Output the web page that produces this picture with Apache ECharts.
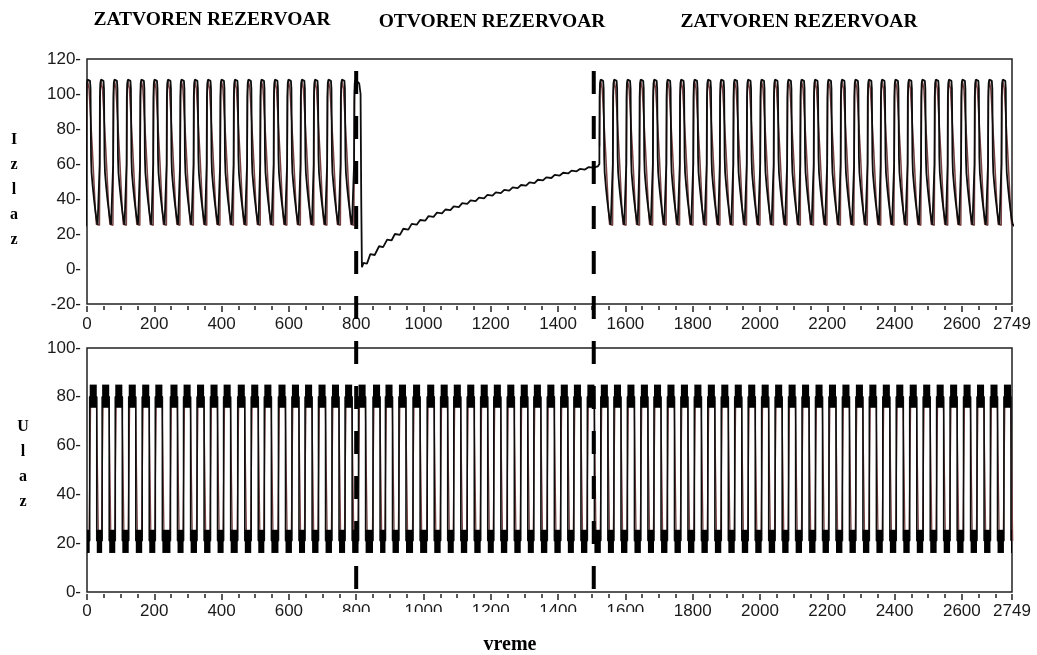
<!DOCTYPE html>
<html>
<head>
<meta charset="utf-8">
<script src="https://cdn.jsdelivr.net/npm/echarts@6/dist/echarts.min.js"></script>
<style>
  html, body { margin: 0; padding: 0; background: #fff; }
  #chart { width: 1037px; height: 655px; }
</style>
</head>
<body>
<div id="chart"></div>
<script>
// ---- time axis ----
const T_MAX = 2749;
const SWITCH_TIMES = [800, 1506];           // tank opened at 800, closed again at ~1506

// ---- Izlaz (tank level) ----
// instants where each closed-tank oscillation cycle starts rising
const outRiseClosed1 = [-3, 37, 77, 117, 157, 196, 236, 276, 316, 355, 395, 435, 475, 514, 554, 594, 634, 673, 713, 753, 793];
const outRiseClosed2 = [1522, 1562, 1602, 1641, 1681, 1721, 1761, 1801, 1841, 1880, 1920, 1960, 2000, 2040, 2080, 2119,
                        2159, 2199, 2239, 2279, 2319, 2358, 2398, 2438, 2478, 2518, 2557, 2597, 2637, 2677, 2717];
// one closed-tank cycle, measured trace: [time after rise, level]
const outCycle = [[0, 24.5], [0.7, 60], [1.4, 98], [2.6, 106], [4.5, 108.2], [9, 108.5], [12, 107.5], [13.5, 103],
                  [14.2, 85], [15, 64], [16.5, 55], [20, 47], [24, 39.5], [28, 33], [31.5, 28], [34.5, 25.3],
                  [36.5, 24.5], [38.8, 24.6]];
// one closed-tank cycle, second (reddish) trace
const outCycleB = [[0, 25], [1.2, 70], [2.4, 102], [4.5, 107.5], [7, 107.5], [9, 103], [19, 68], [28, 33], [31, 25.5], [40, 25]];
// open tank: level drops, then fills slowly in small steps
const openT = [809, 813, 815, 817, 822, 832, 842, 855, 868, 880, 892, 905, 915, 930, 940, 955, 965, 980, 990, 1005,
               1015, 1030, 1040, 1055, 1065, 1080, 1090, 1105, 1115, 1130, 1140, 1155, 1165, 1180, 1190, 1205, 1215,
               1230, 1240, 1255, 1265, 1280, 1290, 1305, 1315, 1330, 1340, 1355, 1365, 1380, 1390, 1405, 1415, 1430,
               1440, 1455, 1465, 1480, 1490, 1505, 1518];
const openV = [106, 100, 40, 1, 3.5, 3, 8.5, 8, 13, 12.5, 16.8, 16.3, 20, 19.5, 23, 22.5, 25.8, 25.3, 28, 27.6,
               30.2, 29.8, 32.2, 31.8, 34, 33.6, 35.8, 35.4, 37.6, 37.2, 39.2, 38.8, 40.8, 40.4, 42.3, 41.9, 43.8,
               43.4, 45.2, 44.8, 46.6, 46.2, 48, 47.6, 49.5, 49.1, 51, 50.6, 52.4, 52, 53.8, 53.4, 55, 54.6,
               56.2, 55.8, 57.2, 56.8, 58.2, 57.9, 58.6];

// ---- Ulaz (relay input) ----
// instants where the input switches to its high state
const inRise = [8, 45, 84, 124, 164, 203, 248, 287, 327, 367, 406, 448, 488, 527, 569, 609, 648, 688, 728, 767,
                807, 850, 887, 927, 969, 1011, 1051, 1090, 1130, 1170, 1209, 1249, 1289, 1328, 1368, 1408, 1447, 1487,
                1527, 1566, 1606, 1646, 1685, 1725, 1765, 1805, 1845, 1885, 1925, 1965, 2005, 2045, 2085, 2125, 2165,
                2205, 2245, 2285, 2325, 2365, 2405, 2445, 2485, 2525, 2565, 2605, 2645, 2685, 2725];
const inHighLen = 21;                 // duration of each high state
const inHighBand = [75.5, 85];        // jitter band while high
const inLowBand = [16, 25.5];         // jitter band while low
const inHighLevel = 80, inLowLevel = 21;

// ---- tick labels ----
const yTopTicks = [-20, 120, 20];     // min, max, step
const yBotTicks = [0, 100, 20];

// ---------- build series data ----------
const outData = [];
outRiseClosed1.forEach(r => outCycle.forEach(([dt, v]) => { if (r + dt <= 803.5) outData.push([r + dt, v]); }));
openT.forEach((t, i) => outData.push([t, openV[i]]));
outRiseClosed2.forEach((r, k) => outCycle.forEach(([dt, v], j) => {
  if (k === 0 && j === 0) return;     // rise starts straight from the open-tank level
  outData.push([r + dt, v]);
}));
// second trace, drawn only where the tank is closed
const outDataB1 = [], outDataB2 = [];
outRiseClosed1.forEach(r => outCycleB.forEach(([dt, v]) => { if (r + dt <= 803) outDataB1.push([r + dt, v]); }));
outRiseClosed2.forEach((r, k) => outCycleB.forEach(([dt, v], j) => { if (!(k === 0 && j === 0)) outDataB2.push([r + dt, v]); }));

const legData = [[0, inLowLevel]];
const legDataB = [[0, inLowLevel]];
const bandData = [[0, inRise[0], inLowBand[0], inLowBand[1]]];
inRise.forEach((s, i) => {
  const e = s + inHighLen;
  const next = i + 1 < inRise.length ? inRise[i + 1] : T_MAX;
  legData.push([s, inLowLevel], [s, inHighLevel], [e, inHighLevel], [e, inLowLevel]);
  legDataB.push([s - 2, inLowLevel], [s + 3, inHighLevel], [e - 1, inHighLevel], [e + 5, inLowLevel]);
  bandData.push([s, Math.min(e, T_MAX), inHighBand[0], inHighBand[1]]);
  if (e < T_MAX) bandData.push([e, next, inLowBand[0], inLowBand[1]]);
});

const dashData = SWITCH_TIMES.map(t => [t, 113.2, -193.5]);

// ---------- styling helpers ----------
const LABEL_FONT = { fontFamily: '"Liberation Sans", Arial, sans-serif', fontSize: 17, color: '#1a1a1a' };
const SERIF_BOLD = 'bold 19.5px "Liberation Serif", "Times New Roman", serif';
const INK = '#0d0d0d', RUST = '#7a4242';

function majorX(gridIndex, margin) {
  return {
    type: 'value', gridIndex, min: 0, max: T_MAX, interval: 200, offset: 2, position: 'bottom',
    axisLine: { show: false, onZero: false },
    axisTick: { show: true, length: 6, lineStyle: { color: '#222', width: 1.5 } },
    axisLabel: Object.assign({ margin, formatter: v => String(v) }, LABEL_FONT),
    splitLine: { show: false }
  };
}
function minorX(gridIndex) {
  return {
    type: 'value', gridIndex, min: 0, max: T_MAX, interval: 50, offset: 2, position: 'bottom',
    axisLine: { show: false, onZero: false },
    axisTick: { show: true, length: 4, lineStyle: { color: '#222', width: 1.5 } },
    axisLabel: { show: false },
    splitLine: { show: false }
  };
}
function yAx(gridIndex, ticks) {
  return {
    type: 'value', gridIndex, min: ticks[0], max: ticks[1], interval: ticks[2], position: 'left',
    axisLine: { show: false, onZero: false }, axisTick: { show: false },
    axisLabel: Object.assign({ margin: 6, formatter: v => v + '-' }, LABEL_FONT),
    splitLine: { show: false }
  };
}

function renderBand(params, api) {
  const a = api.coord([api.value(0), api.value(3)]);
  const b = api.coord([api.value(1), api.value(2)]);
  return { type: 'rect', shape: { x: a[0], y: a[1], width: b[0] - a[0], height: b[1] - a[1] }, style: { fill: '#000' } };
}
function renderDash(params, api) {
  const a = api.coord([api.value(0), api.value(1)]);
  const b = api.coord([api.value(0), api.value(2)]);
  return { type: 'line', shape: { x1: a[0], y1: a[1], x2: b[0], y2: b[1] },
           style: { stroke: '#000', lineWidth: 4, lineDash: [23, 22] } };
}
function lineSeries(name, xi, yi, data, color, width, z) {
  return { name, type: 'line', xAxisIndex: xi, yAxisIndex: yi, data, showSymbol: false, silent: true,
           lineStyle: { color, width }, clip: true, z };
}

const chart = echarts.init(document.getElementById('chart'), null, { renderer: 'canvas' });
chart.setOption({
  animation: false,
  backgroundColor: '#fff',
  grid: [
    { left: 87, right: 25, top: 59, height: 245, show: true, borderColor: '#222', borderWidth: 1.5, backgroundColor: 'transparent' },
    { left: 87, right: 25, top: 348, height: 244, show: true, borderColor: '#222', borderWidth: 1.5, backgroundColor: 'transparent' }
  ],
  xAxis: [majorX(0, 10), minorX(0), majorX(1, 9), minorX(1)],
  yAxis: [yAx(0, yTopTicks), yAx(1, yBotTicks)],
  series: [
    lineSeries('Izlaz B1', 0, 0, outDataB1, RUST, 1.5, 2),
    lineSeries('Izlaz B2', 0, 0, outDataB2, RUST, 1.5, 2),
    lineSeries('Izlaz', 0, 0, outData, INK, 1.8, 3),
    lineSeries('Ulaz B', 2, 1, legDataB, RUST, 1.3, 2),
    lineSeries('Ulaz', 2, 1, legData, INK, 1.6, 3),
    { name: 'Ulaz pojas', type: 'custom', xAxisIndex: 2, yAxisIndex: 1, data: bandData, renderItem: renderBand,
      encode: { x: [0, 1], y: [2, 3] }, clip: true, z: 4, silent: true },
    { name: 'Prekid', type: 'custom', xAxisIndex: 0, yAxisIndex: 0, data: dashData, renderItem: renderDash,
      encode: { x: 0, y: [1, 2] }, clip: false, z: 10, silent: true }
  ],
  graphic: [
    { type: 'text', x: 212, y: 20, style: { text: 'ZATVOREN REZERVOAR', font: SERIF_BOLD, fill: '#000', align: 'center', verticalAlign: 'middle' } },
    { type: 'text', x: 492, y: 22, style: { text: 'OTVOREN REZERVOAR', font: SERIF_BOLD, fill: '#000', align: 'center', verticalAlign: 'middle' } },
    { type: 'text', x: 799, y: 22, style: { text: 'ZATVOREN REZERVOAR', font: SERIF_BOLD, fill: '#000', align: 'center', verticalAlign: 'middle' } },
    { type: 'text', x: 14, y: 190, style: { text: 'I\nz\nl\na\nz', font: 'bold 16px "Liberation Serif", serif', lineHeight: 25, fill: '#000', align: 'center', verticalAlign: 'middle' } },
    { type: 'text', x: 23, y: 464, style: { text: 'U\nl\na\nz', font: 'bold 16px "Liberation Serif", serif', lineHeight: 25, fill: '#000', align: 'center', verticalAlign: 'middle' } },
    { type: 'rect', z: 50, shape: { x: 335, y: 612, width: 320, height: 43 }, style: { fill: '#fff' } },
    { type: 'text', z: 51, x: 510, y: 645, style: { text: 'vreme', font: 'bold 20px "Liberation Serif", serif', fill: '#000', align: 'center', verticalAlign: 'middle' } }
  ]
});
</script>
</body>
</html>
